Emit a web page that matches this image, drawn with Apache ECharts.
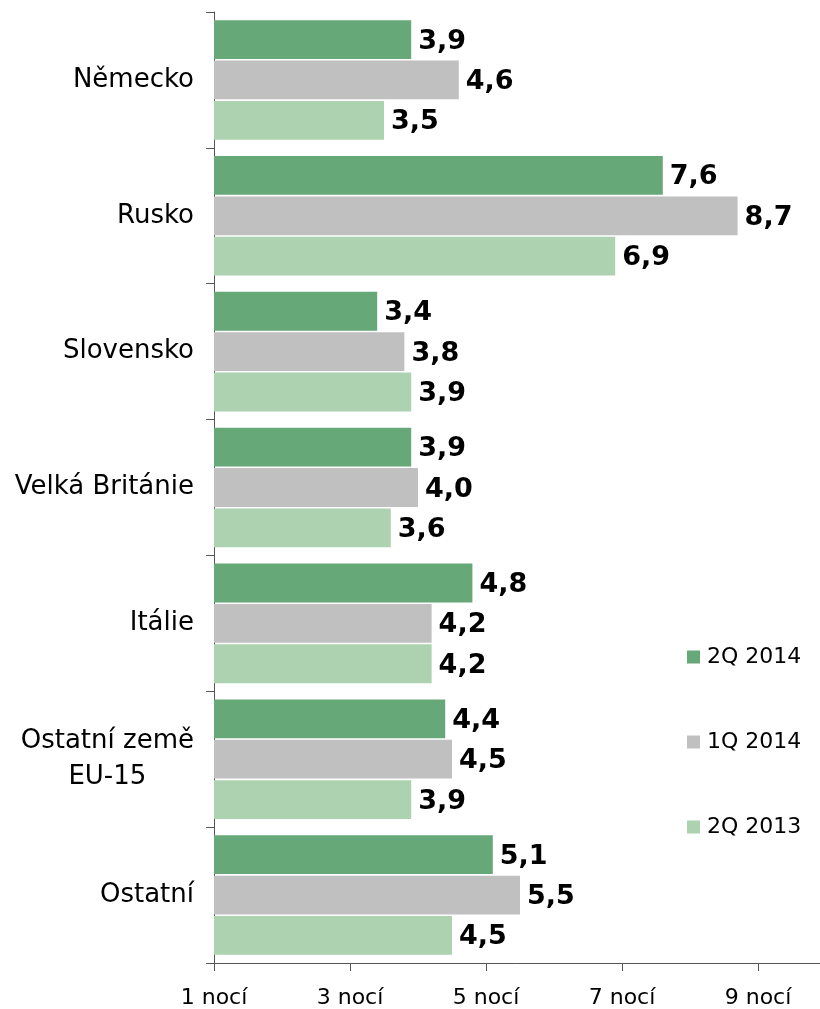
<!DOCTYPE html>
<html>
<head>
<meta charset="utf-8">
<script src="https://cdn.jsdelivr.net/npm/echarts@6/dist/echarts.min.js"></script>
<style>
  html, body { margin: 0; padding: 0; background: #fff; }
  #chart { width: 820px; height: 1009px; }
</style>
</head>
<body>
<div id="chart"></div>
<script>
const countries = ['Německo', 'Rusko', 'Slovensko', 'Velká Británie', 'Itálie', 'Ostatní země\nEU-15', 'Ostatní']
const seriesNames = ['2Q 2014', '1Q 2014', '2Q 2013']
const q2_2014 = [3.9, 7.6, 3.4, 3.9, 4.8, 4.4, 5.1]
const q1_2014 = [4.6, 8.7, 3.8, 4.0, 4.2, 4.5, 5.5]
const q2_2013 = [3.5, 6.9, 3.9, 3.6, 4.2, 3.9, 4.5]
const colors = ['#66a877', '#c0c0c0', '#add2b0']

const chart = echarts.init(document.getElementById('chart'))

const font = 'DejaVu Sans'

const makeSeries = (name, data, color) => ({
  name,
  type: 'bar',
  data,
  barGap: '4%',
  barCategoryGap: '12%',
  itemStyle: { color },
  label: {
    show: true,
    position: 'right',
    distance: 7,
    offset: [0, 2],
    color: '#000',
    fontFamily: font,
    fontWeight: 'bold',
    fontSize: 27,
    formatter: (p) => p.value.toFixed(1).replace('.', ','),
  },
})

const option = {
  backgroundColor: '#fff',
  animation: false,
  textStyle: { fontFamily: font },
  grid: {
    left: 214,
    right: -74,
    top: 12,
    bottom: 46,
    outerBoundsMode: 'none',
    containLabel: false,
  },
  legend: {
    orient: 'vertical',
    left: 682,
    top: 641,
    itemGap: 63,
    itemWidth: 13,
    itemHeight: 13,
    icon: 'rect',
    data: seriesNames,
    textStyle: { fontFamily: font, fontSize: 22, color: '#000', padding: [0, 0, 0, 2] },
  },
  xAxis: {
    type: 'value',
    min: 1,
    max: 11,
    interval: 2,
    splitLine: { show: false },
    axisLine: { show: true, lineStyle: { color: '#555', width: 1 } },
    axisTick: { show: true, length: 8, lineStyle: { color: '#555' } },
    axisLabel: {
      color: '#000',
      fontFamily: font,
      fontSize: 22,
      margin: 24,
      formatter: (v) => v + ' nocí',
    },
  },
  yAxis: {
    type: 'category',
    inverse: true,
    data: countries,
    axisLine: { show: true, lineStyle: { color: '#555', width: 1 } },
    axisTick: { show: true, length: 8, lineStyle: { color: '#555' } },
    axisLabel: {
      color: '#000',
      fontFamily: font,
      fontSize: 26,
      margin: 20,
      formatter: (v) => v.split('\n').map((s) => '{c|' + s + '}').join('\n'),
      rich: {
        c: { fontFamily: font, fontSize: 26, lineHeight: 36, align: 'center', color: '#000' },
      },
    },
  },
  series: [
    makeSeries(seriesNames[0], q2_2014, colors[0]),
    makeSeries(seriesNames[1], q1_2014, colors[1]),
    makeSeries(seriesNames[2], q2_2013, colors[2]),
  ],
}

chart.setOption(option)
</script>
</body>
</html>
